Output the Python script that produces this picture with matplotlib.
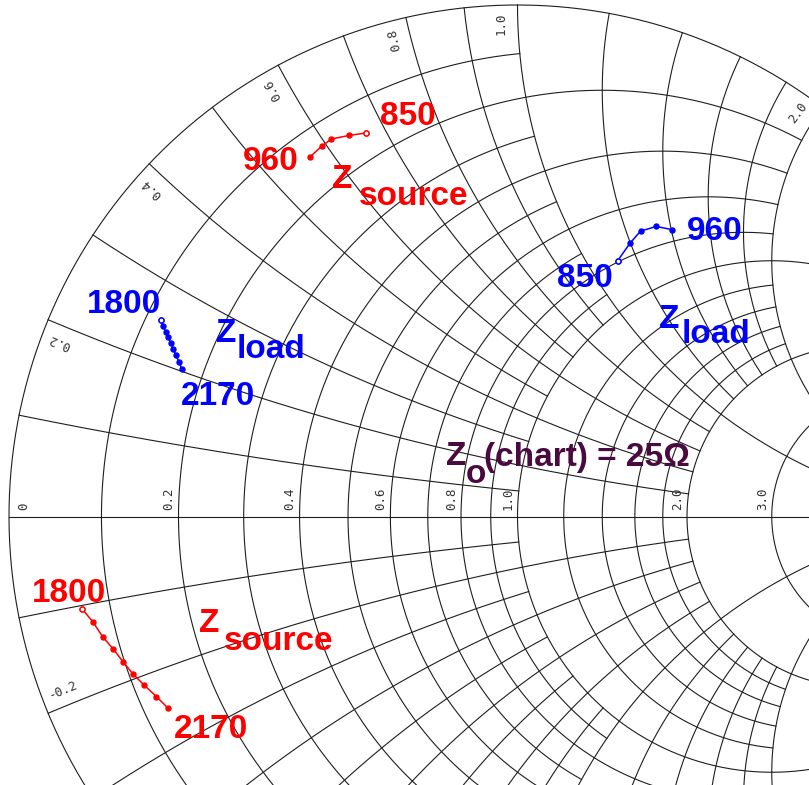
import numpy as np
import matplotlib.pyplot as plt

W, H = 809, 785

# reflection coefficient (25 ohm chart) of the matched impedances
# low band, 850 -> 960 MHz
src_hf_re = [-0.297, -0.331, -0.366, -0.385, -0.408]
src_hf_im = [0.750, 0.745, 0.738, 0.724, 0.703]
load_hf_re = [0.197, 0.221, 0.242, 0.273, 0.303]
load_hf_im = [0.500, 0.534, 0.558, 0.567, 0.561]
# high band, 1800 -> 2170 MHz
src_lf_re = [-0.857, -0.835, -0.816, -0.795, -0.775, -0.756, -0.735, -0.710, -0.687]
src_lf_im = [-0.180, -0.206, -0.235, -0.259, -0.285, -0.308, -0.329, -0.352, -0.375]
load_lf_re = [-0.701, -0.697, -0.692, -0.687, -0.682, -0.677, -0.672, -0.666, -0.660]
load_lf_im = [0.384, 0.372, 0.361, 0.350, 0.339, 0.327, 0.316, 0.303, 0.288]

# smith grid: value of each circle/arc and how far it runs on the other family
grid_vals = [0.1, 0.2, 0.3, 0.4, 0.5, 0.6, 0.7, 0.8, 0.9, 1.0,
             1.2, 1.4, 1.6, 1.8, 2.0, 3.0, 4.0, 5.0, 10.0, 20.0]
grid_ends = [1, 2, 1, 2, 1, 2, 1, 2, 1, 10,
             2, 2, 2, 2, 10, 10, 10, 20, 20, 50]
r_labels = [0, 0.2, 0.4, 0.6, 0.8, 1.0, 2.0, 3.0]
x_labels = [0.2, 0.4, 0.6, 0.8, 1.0, 2.0]
x_labels_neg = [0.2]


def gamma(z):
    return (z - 1) / (z + 1)


fig = plt.figure(figsize=(W / 100, H / 100), dpi=100)
ax = fig.add_axes([0, 0, 1, 1])
ax.set_xlim(-517.5 / 508.5, (W - 517.5) / 508.5)
ax.set_ylim((516.5 - H) / 511.5, 516.5 / 511.5)
ax.axis('off')

gcol = '#1e1e1e'
glw = 0.8

# outer circle and real axis
th = np.linspace(0, 2 * np.pi, 800)
ax.plot(np.cos(th), np.sin(th), color=gcol, lw=glw)
ax.plot([-1, 1], [0, 0], color=gcol, lw=glw)

for v, e in zip(grid_vals, grid_ends):
    # constant resistance
    t = np.tan(np.linspace(-np.arctan(e), np.arctan(e), 800))
    g = gamma(v + 1j * t)
    ax.plot(g.real, g.imag, color=gcol, lw=glw)
    # constant reactance, both signs
    s = np.tan(np.linspace(0, np.arctan(e), 800))
    for sg in (1, -1):
        g = gamma(s + 1j * sg * v)
        ax.plot(g.real, g.imag, color=gcol, lw=glw)

lab_kw = dict(family='DejaVu Sans Mono', fontsize=9, color='#333333',
              rotation_mode='anchor', va='bottom')
for r in r_labels:
    gx = gamma(r)
    if r == 0:
        ax.text(gx + 21 / 508.5, 6 / 511.5, '0', rotation=90, ha='left', **lab_kw)
    else:
        ax.text(gx - 3 / 508.5, 6 / 511.5, f'{r:.1f}', rotation=90, ha='left', **lab_kw)

for x in x_labels:
    a = np.degrees(np.angle(gamma(1j * x)))
    p = np.radians(a + 1.1)
    ax.text(0.985 * np.cos(p), 0.985 * np.sin(p), f'{x:.1f}', rotation=a,
            ha='right', **lab_kw)
for x in x_labels_neg:
    a = np.degrees(np.angle(gamma(1j * x)))
    p = np.radians(-a - 1.1)
    ax.text(0.985 * np.cos(p), 0.985 * np.sin(p), f'-{x:.1f}', rotation=180 - a,
            ha='left', **lab_kw)

# measured traces
red, blue = '#ff0000', '#0000ff'
for re_, im_, c in [(src_hf_re, src_hf_im, red), (src_lf_re, src_lf_im, red),
                    (load_hf_re, load_hf_im, blue), (load_lf_re, load_lf_im, blue)]:
    ax.plot(re_, im_, '-o', color=c, lw=1.1, ms=3.6)
    ax.plot(re_[0], im_[0], 'o', color=c, mfc='white', mew=1.0, ms=3.6)

# annotations, positioned in picture pixels (left, baseline)
big = dict(family='Liberation Sans', weight='bold', fontsize=24,
           ha='left', va='baseline')


def note(px, py, s, c):
    fig.text(px / W, 1 - py / H, s, color=c, **big)


note(380, 125, '850', red)
note(243, 170, '960', red)
note(332, 188, 'Z', red)
note(359, 205, 'source', red)
note(32, 602, '1800', red)
note(199, 632, 'Z', red)
note(224, 650, 'source', red)
note(174, 738, '2170', red)

note(687, 240, '960', blue)
note(557, 287, '850', blue)
note(659, 328, 'Z', blue)
note(682, 343, 'load', blue)
note(87, 313, '1800', blue)
note(216, 342, 'Z', blue)
note(237, 358, 'load', blue)
note(181, 405, '2170', blue)

purple = '#4a0a40'
note(446, 465, 'Z', purple)
note(466, 483, 'o', purple)
note(484, 466, '(chart) = 25\u03a9', purple)

fig.savefig('out.png', dpi=100)
